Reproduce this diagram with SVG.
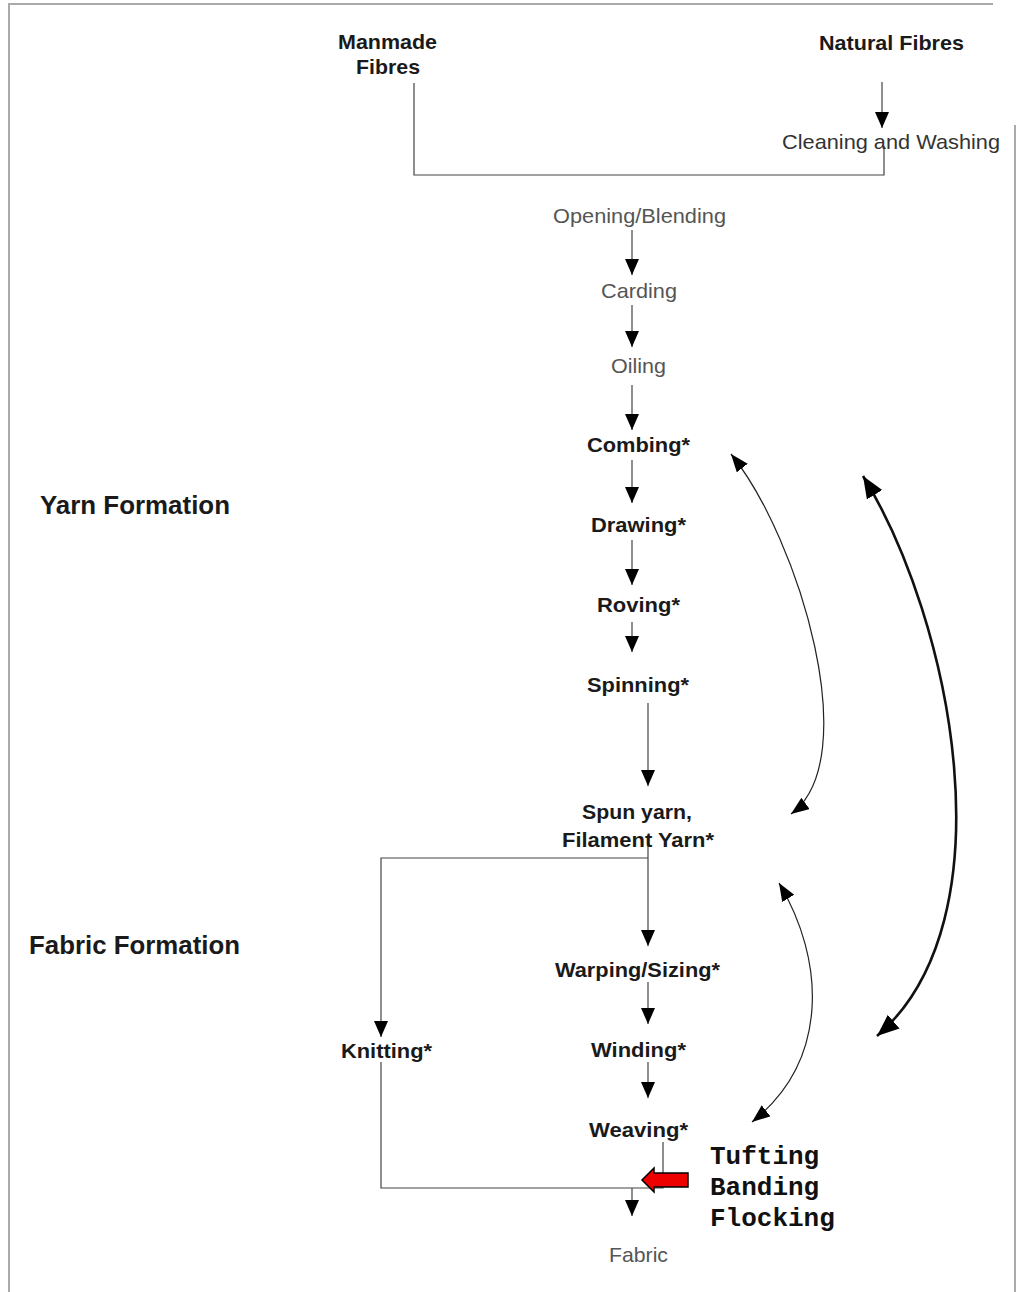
<svg xmlns="http://www.w3.org/2000/svg" width="1017" height="1292" viewBox="0 0 1017 1292">
<defs>
<style>
.b{font-family:"Liberation Sans",Arial,sans-serif;font-weight:bold;font-size:21px;fill:#1a1a1a}
.r{font-family:"Liberation Sans",Arial,sans-serif;font-size:21px;fill:#555}
.h{font-family:"Liberation Sans",Arial,sans-serif;font-weight:bold;font-size:25px;fill:#1a1a1a}
.m{font-family:"Liberation Mono","Courier New",monospace;font-weight:bold;font-size:26px;fill:#111}
.ln{fill:none;stroke:#444;stroke-width:1.2}
.cv{fill:none;stroke:#222;stroke-width:1.2}
.cvt{fill:none;stroke:#111;stroke-width:2.6}
.frame{fill:none;stroke:#aaa;stroke-width:2}
</style>
<marker id="ah" markerUnits="userSpaceOnUse" markerWidth="16" markerHeight="16" refX="16" refY="7" orient="auto"><path d="M0,0 L16,7 L0,14 z" fill="#000"/></marker>
<marker id="ac" markerUnits="userSpaceOnUse" markerWidth="18" markerHeight="16" refX="18" refY="7" orient="auto-start-reverse"><path d="M0,0 L18,7 L0,14 z" fill="#000"/></marker>
<marker id="acb" markerUnits="userSpaceOnUse" markerWidth="22" markerHeight="20" refX="22" refY="9" orient="auto-start-reverse"><path d="M0,0 L22,9 L0,18 z" fill="#000"/></marker>
</defs>
<rect width="1017" height="1292" fill="#fff"/>
<g id="frame">
<path class="frame" d="M9,1292 V4 H993"/>
<path class="frame" d="M1015,125 V1292"/>
</g>
<g id="connectors">
<path class="ln" d="M414,83 V175 H884 V146"/>
<path class="ln" d="M882,82 V128" marker-end="url(#ah)"/>
<path class="ln" d="M632,230 V275" marker-end="url(#ah)"/>
<path class="ln" d="M632,305 V347" marker-end="url(#ah)"/>
<path class="ln" d="M632,385 V430" marker-end="url(#ah)"/>
<path class="ln" d="M632,460 V503" marker-end="url(#ah)"/>
<path class="ln" d="M632,540 V585" marker-end="url(#ah)"/>
<path class="ln" d="M632,622 V652" marker-end="url(#ah)"/>
<path class="ln" d="M648,703 V786" marker-end="url(#ah)"/>
<path class="ln" d="M648,845 V946" marker-end="url(#ah)"/>
<path class="ln" d="M648,858 H381 V1037" marker-end="url(#ah)"/>
<path class="ln" d="M648,982 V1024" marker-end="url(#ah)"/>
<path class="ln" d="M648,1062 V1098" marker-end="url(#ah)"/>
<path class="ln" d="M381,1062 V1188 H663 V1142"/>
<path class="ln" d="M632,1188 V1216" marker-end="url(#ah)"/>
<path class="cv" d="M731,454 C800,540 865,760 791,814" marker-start="url(#ac)" marker-end="url(#ac)"/>
<path class="cvt" d="M863,476 C952,620 1012,920 877,1036" marker-start="url(#acb)" marker-end="url(#acb)"/>
<path class="cv" d="M779,883 C825,960 830,1060 752,1122" marker-start="url(#ac)" marker-end="url(#ac)"/>
<path d="M642,1180 L654,1168 L654,1173 L688,1173 L688,1187 L654,1187 L654,1192 z" fill="#e00" stroke="#000" stroke-width="1.5"/>
</g>
<g id="n-manmade"><text class="b" x="338" y="49" textLength="99" lengthAdjust="spacingAndGlyphs">Manmade</text><text class="b" x="356" y="74" textLength="64" lengthAdjust="spacingAndGlyphs">Fibres</text></g>
<g id="n-natural"><text class="b" x="819" y="50" textLength="145" lengthAdjust="spacingAndGlyphs">Natural Fibres</text></g>
<g id="n-cleaning"><text class="r" x="782" y="149" textLength="218" lengthAdjust="spacingAndGlyphs" style="fill:#333">Cleaning and Washing</text></g>
<g id="n-opening"><text class="r" x="553" y="223" textLength="173" lengthAdjust="spacingAndGlyphs">Opening/Blending</text></g>
<g id="n-carding"><text class="r" x="601" y="298" textLength="76" lengthAdjust="spacingAndGlyphs">Carding</text></g>
<g id="n-oiling"><text class="r" x="611" y="373" textLength="55" lengthAdjust="spacingAndGlyphs">Oiling</text></g>
<g id="n-combing"><text class="b" x="587" y="452" textLength="103" lengthAdjust="spacingAndGlyphs">Combing*</text></g>
<g id="n-drawing"><text class="b" x="591" y="532" textLength="95" lengthAdjust="spacingAndGlyphs">Drawing*</text></g>
<g id="n-roving"><text class="b" x="597" y="612" textLength="83" lengthAdjust="spacingAndGlyphs">Roving*</text></g>
<g id="n-spinning"><text class="b" x="587" y="692" textLength="102" lengthAdjust="spacingAndGlyphs">Spinning*</text></g>
<g id="n-spun"><text class="b" x="582" y="819" textLength="110" lengthAdjust="spacingAndGlyphs">Spun yarn,</text><text class="b" x="562" y="847" textLength="152" lengthAdjust="spacingAndGlyphs">Filament Yarn*</text></g>
<g id="n-warping"><text class="b" x="555" y="977" textLength="165" lengthAdjust="spacingAndGlyphs">Warping/Sizing*</text></g>
<g id="n-winding"><text class="b" x="591" y="1057" textLength="95" lengthAdjust="spacingAndGlyphs">Winding*</text></g>
<g id="n-knitting"><text class="b" x="341" y="1058" textLength="91" lengthAdjust="spacingAndGlyphs">Knitting*</text></g>
<g id="n-weaving"><text class="b" x="589" y="1137" textLength="99" lengthAdjust="spacingAndGlyphs">Weaving*</text></g>
<g id="n-fabric"><text class="r" x="609" y="1262" textLength="59" lengthAdjust="spacingAndGlyphs">Fabric</text></g>
<g id="n-yarnformation"><text class="h" x="40" y="514" textLength="190" lengthAdjust="spacingAndGlyphs">Yarn Formation</text></g>
<g id="n-fabricformation"><text class="h" x="29" y="954" textLength="211" lengthAdjust="spacingAndGlyphs">Fabric Formation</text></g>
<g id="n-tufting"><text class="m" x="710" y="1164">Tufting</text><text class="m" x="710" y="1195">Banding</text><text class="m" x="710" y="1226">Flocking</text></g>
</svg>
